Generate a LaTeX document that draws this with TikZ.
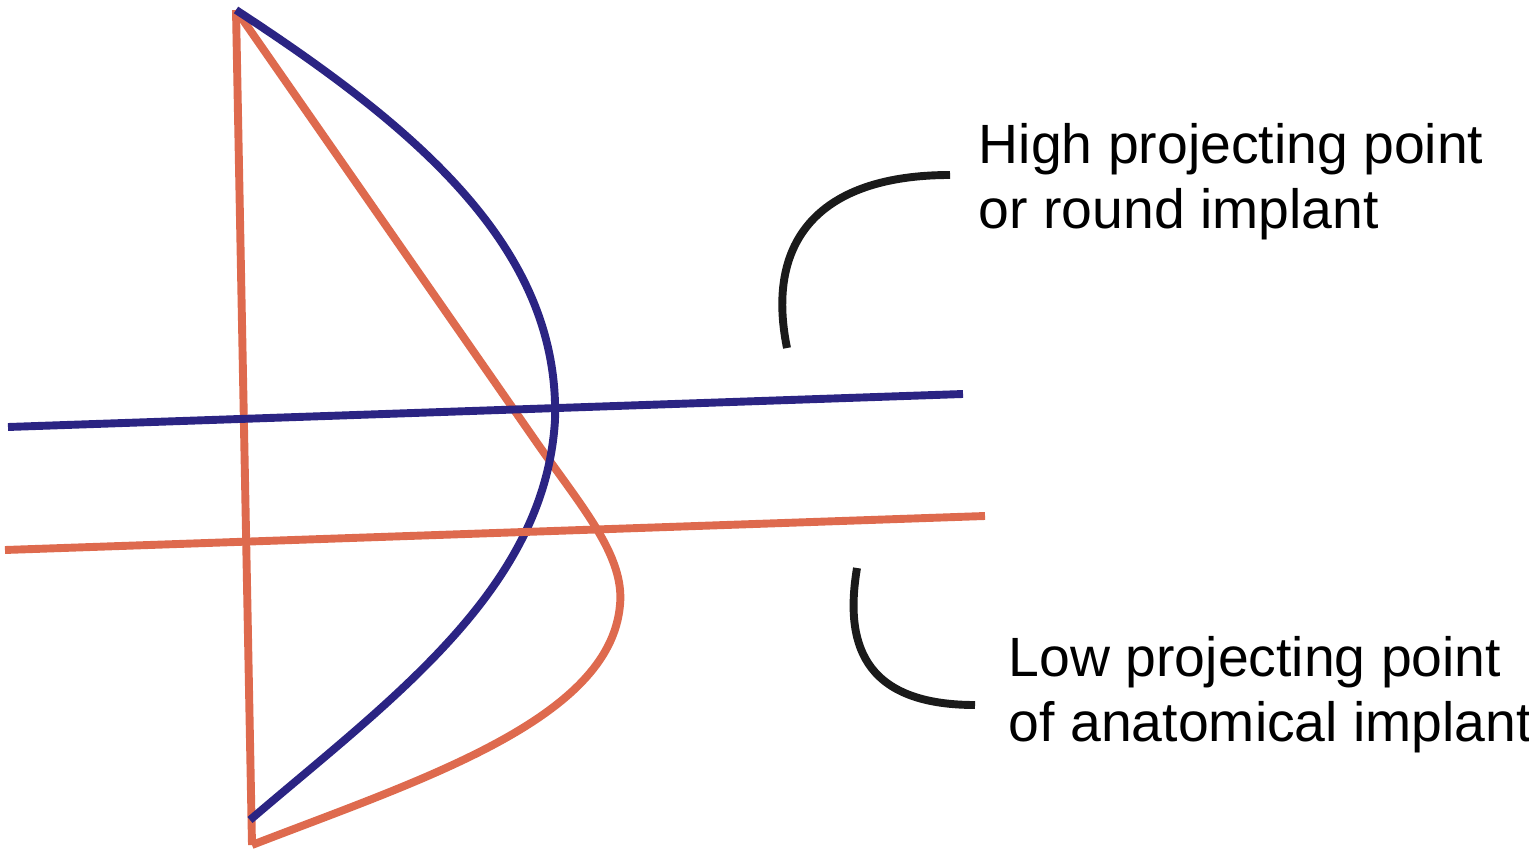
\documentclass[tikz,border=0pt]{standalone}
\usepackage{fontspec}
\setmainfont{Liberation Sans}
\definecolor{or}{HTML}{DE6A4E}
\definecolor{bl}{HTML}{2B2483}
\definecolor{bk}{HTML}{1A1A1A}
\begin{document}
\begin{tikzpicture}[x=0.02cm,y=-0.02cm,line width=4.5pt,
  lbl/.style={anchor=west,align=left,font=\fontsize{31.5}{37}\selectfont,inner sep=0pt}]
\useasboundingbox[fill=white] (0,0) rectangle (1529,851);
\coordinate (top) at (236,10);
\coordinate (bot) at (252,845);
\coordinate (bbot) at (250,820);
\draw[or] (top) -- (bot);
\draw[or] (top) -- (535,440) .. controls (580,505) and (625,555) .. (620,605)
  .. controls (610,720) and (420,780) .. (bot);
\draw[bl] (top) .. controls (420,130) and (560,250) .. (555,420)
  .. controls (545,590) and (390,700) .. (bbot);
\draw[bl] (8,427) -- (963,394);
\draw[or] (5,550) -- (985,516);
\draw[bk] (950,175) .. controls (820,175) and (765,240) .. (787,348);
\draw[bk] (857,568) .. controls (845,640) and (860,705) .. (975,705);
\node[lbl] (t1) at (975,182) {High projecting point\\or round implant};
\node[lbl] (t2) at (1005,695) {Low projecting point\\of anatomical implant};
\end{tikzpicture}
\end{document}
